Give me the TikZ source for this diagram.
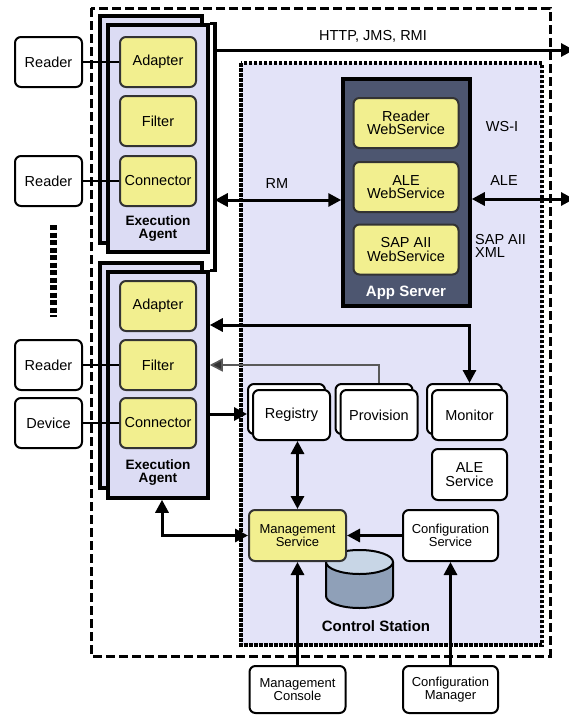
\documentclass[tikz,border=0pt]{standalone}
\usepackage{fontspec}
\setmainfont{Liberation Sans}
\usetikzlibrary{arrows.meta}
\definecolor{agentfill}{HTML}{DCDCF4}
\definecolor{csfill}{HTML}{E3E3F8}
\definecolor{yel}{HTML}{F2EF8F}
\definecolor{appfill}{HTML}{4D5670}
\definecolor{cylside}{HTML}{8FA0B8}
\definecolor{cyltop}{HTML}{C8D6E6}
\begin{document}
\begin{tikzpicture}[x=1pt,y=-1pt,
  every node/.style={font=\fontsize{14.5}{13.5}\selectfont, align=center, inner sep=0pt},
  sz/.style 2 args={minimum width=#1pt, minimum height=#2pt},
  whitebox/.style={draw=black, line width=2pt, rounded corners=6pt, fill=white},
  yelbox/.style={draw=black!80, line width=2pt, rounded corners=6pt, fill=yel},
  agentbox/.style={draw=black, line width=3.5pt, fill=agentfill},
  small/.style={font=\fontsize{13}{12.5}\selectfont},
  boldlbl/.style={font=\bfseries\fontsize{13.6}{13}\selectfont},
  biglbl/.style={font=\bfseries\fontsize{15}{15}\selectfont},
  link/.style={line width=2.6pt},
  tip/.tip={Triangle[length=13pt,width=13pt]},
  arr/.style={line width=3pt, -tip},
  dbl/.style={line width=3pt, tip-tip},
  thinarr/.style={line width=1.6pt, draw=black!65, -{Triangle[length=13pt,width=13pt,fill=black!80]}},
]
\fill[white] (0,0) rectangle (568,715);
\useasboundingbox (0,0) rectangle (568,715);

% enclosing boundaries
\draw[line width=3pt, dash pattern=on 9pt off 4pt] (91,8) rectangle (550,656);
\draw[fill=csfill, line width=4pt, dash pattern=on 3.5pt off 1.5pt] (241,63) rectangle (542,645);

% readers and device
\node[whitebox, sz={67}{50}] (r1) at (48.5,62) {Reader};
\node[whitebox, sz={67}{50}] (r2) at (48.5,181) {Reader};
\node[whitebox, sz={67}{50}] (r3) at (48.5,365) {Reader};
\node[whitebox, sz={67}{50}] (dev) at (48.5,423) {Device};
\draw[line width=7pt, dash pattern=on 5pt off 2.5pt] (53,225) -- (53,317);

% execution agent 1
\node[agentbox, sz={102}{227}] (ea1b) at (151,129.5) {};
\node[agentbox, sz={100}{227}] (ea1) at (158,138.5) {};
\node[yelbox, sz={76}{50}] (ad1) at (158,62) {Adapter};
\node[yelbox, sz={76}{50}] (fi1) at (158,121) {Filter};
\node[yelbox, sz={76}{50}] (co1) at (158,181) {Connector};
\node[boldlbl] (ealbl1) at (158,229) {Execution\\Agent};

% execution agent 2
\node[agentbox, sz={102}{225}] (ea2b) at (151,375.5) {};
\node[agentbox, sz={100}{226}] (ea2) at (158,385) {};
\node[yelbox, sz={76}{50}] (ad2) at (158,306) {Adapter};
\node[yelbox, sz={76}{50}] (fi2) at (158,365) {Filter};
\node[yelbox, sz={76}{50}] (co2) at (158,423) {Connector};
\node[boldlbl] (ealbl2) at (158,473) {Execution\\Agent};

% app server
\node[draw=black, line width=3.5pt, fill=appfill, sz={127}{227}] (app) at (406.5,192.5) {};
\node[yelbox, sz={105}{50}] (ws1) at (406,123) {Reader\\WebService};
\node[yelbox, sz={105}{50}] (ws2) at (406,187) {ALE\\WebService};
\node[yelbox, sz={105}{50}] (ws3) at (406,249.5) {SAP AII\\WebService};
\node[biglbl, text=white] (applbl) at (406,293) {App Server};

% control station services
\node[whitebox, sz={77}{50}] (regb) at (286.5,409) {};
\node[whitebox, sz={77}{50}] (reg) at (291.5,415) {Registry};
\node[whitebox, sz={77}{50}] (provb) at (374,409) {};
\node[whitebox, sz={77}{50}] (prov) at (379,415) {Provision};
\node[whitebox, sz={75}{50}] (monb) at (464.5,409) {};
\node[whitebox, sz={75}{50}] (mon) at (469.5,415) {Monitor};
\node[whitebox, sz={75}{51}] (ale) at (469.5,474.5) {ALE\\Service};

% database
\draw[line width=2pt, fill=cylside] (326,562) -- (326,596)
  arc[start angle=180, end angle=360, x radius=33.5pt, y radius=12pt] -- (393,562);
\draw[line width=2pt, fill=cyltop] (359.5,562) ellipse [x radius=33.5pt, y radius=12pt];

\node[yelbox, small, sz={97}{51}] (ms) at (297.5,535.5) {Management\\Service};
\node[whitebox, small, sz={95}{51}] (cs) at (450.5,535.5) {Configuration\\Service};
\node[biglbl] (cslbl) at (376,626) {Control Station};

% consoles
\node[whitebox, small, sz={96}{47}] (mc) at (297.5,689.5) {Management\\Console};
\node[whitebox, small, sz={95}{47}] (cm) at (450.5,689.5) {Configuration\\Manager};

% protocol labels
\node (httplbl) at (373,36) {HTTP, JMS, RMI};
\node (rmlbl) at (277,184) {RM};
\node (wsilbl) at (502,127) {WS-I};
\node (alelbl) at (504,181) {ALE};
\node[anchor=west, align=left] (saplbl) at (475,246) {SAP AII\\XML};

% reader links
\draw[link] (r1) -- (ad1);
\draw[link] (r2) -- (co1);
\draw[link] (r3) -- (fi2);
\draw[link] (dev) -- (co2);

% outbound bracket and arrows
\draw[line width=3.5pt] (ea1.north east) -- ++(5,0) coordinate (bk) -- (bk |- ea2.north east) -- (ea2.north east);
\coordinate (httpend) at (574,50);
\coordinate (aleend) at (574,199);
\draw[arr] (bk |- 0,50) -- (httpend);
\draw[dbl] (bk |- 0,200) -- (app.west |- 0,200);
\draw[dbl] (app.east |- 0,199) -- (aleend);

% control links
\draw[dbl] (mon.north |- monb.north) |- (ea2.east |- 0,325);
\draw[thinarr] (prov.north |- provb.north) |- (ea2.east |- fi2);
\draw[arr] (ea2.east |- 0,414) -- (regb.west |- 0,414);
\draw[dbl] (ms.north |- reg.south) -- (ms.north);
\draw[arr] (cs) -- (ms);
\draw[arr] (mc) -- (ms);
\draw[arr] (cm) -- (cs);
\draw[dbl] ([xshift=4pt]ea2.south) |- (ms.west);
\end{tikzpicture}
\end{document}
